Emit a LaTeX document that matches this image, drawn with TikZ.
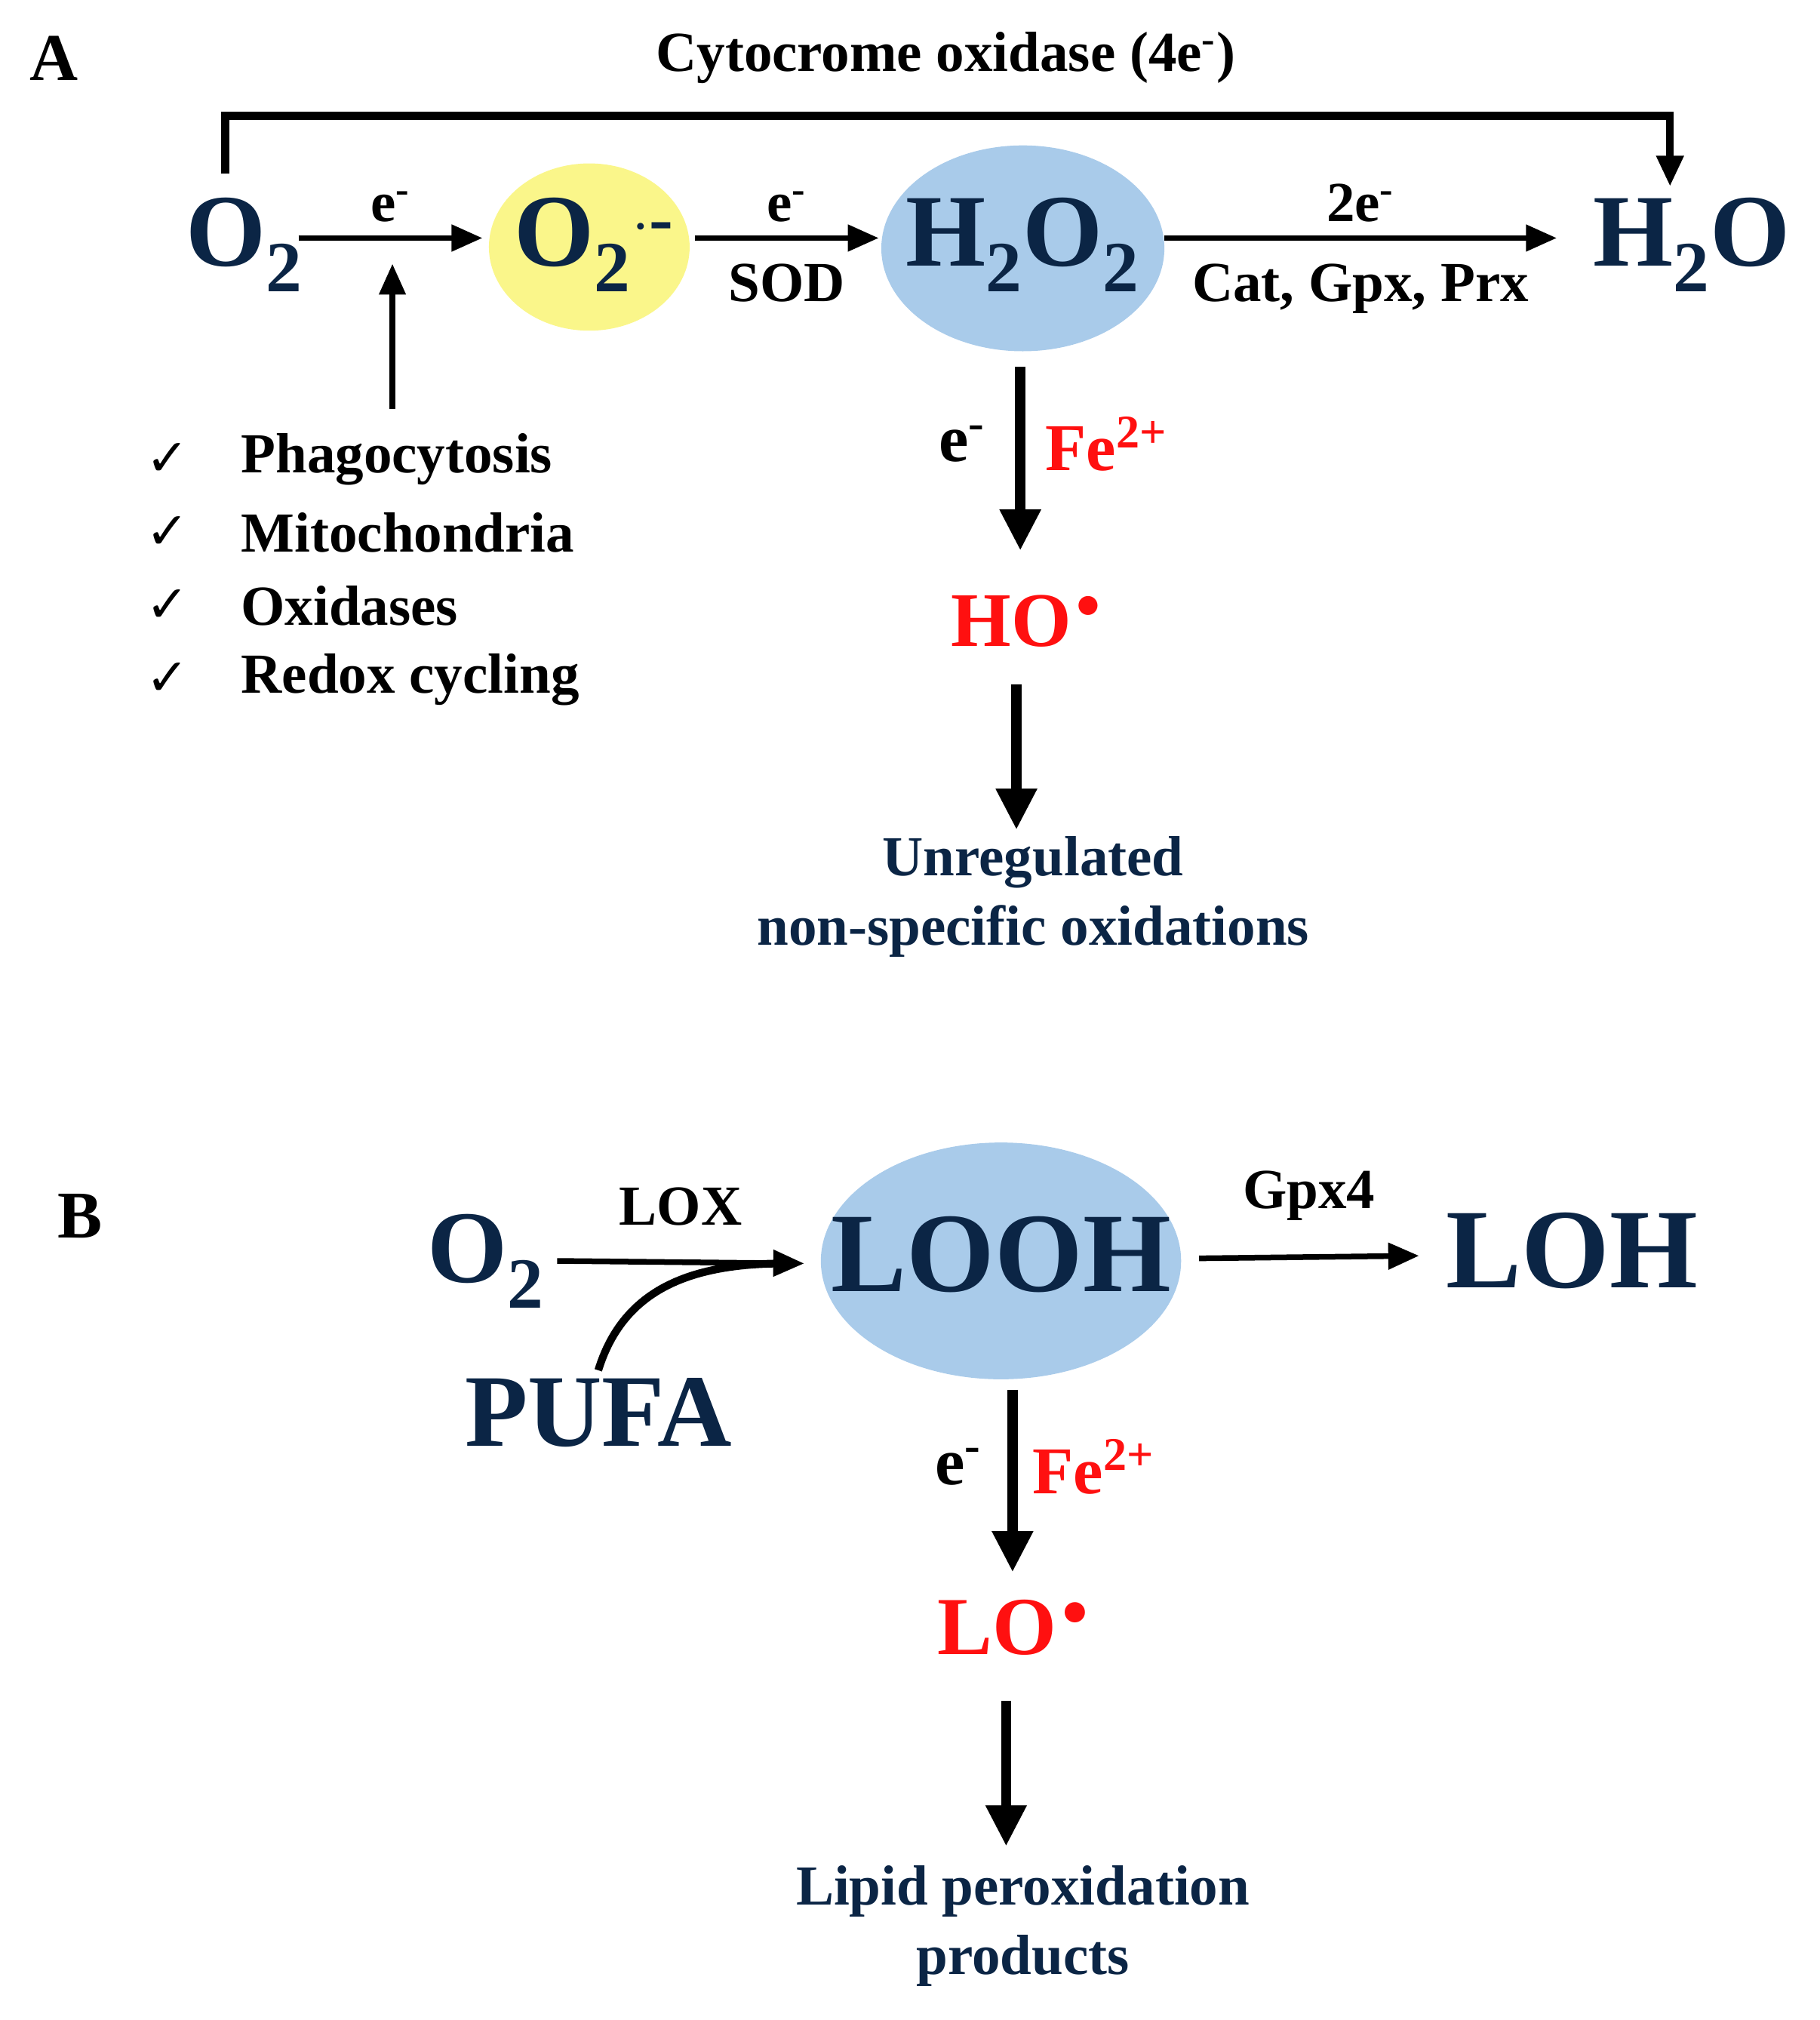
\documentclass[tikz,border=0pt]{standalone}
\usepackage{fontspec}
\setmainfont{Liberation Serif}
\newfontfamily\djv{DejaVu Sans}
\usetikzlibrary{arrows.meta}
\definecolor{navy}{HTML}{0B2545}
\definecolor{ered}{HTML}{FF1010}
\definecolor{lblue}{HTML}{A9CBEA}
\definecolor{lyellow}{HTML}{FAF68A}
\tikzset{
 arr/.style={-{Triangle[length=12pt,width=10pt]},line width=2.2pt},
 thk/.style={-{Triangle[length=16pt,width=15pt]},line width=4pt},
 big/.style={font=\fontsize{40}{44}\selectfont\bfseries,text=navy,inner sep=0pt},
 lab/.style={font=\fontsize{22}{26}\selectfont\bfseries,inner sep=1pt},
 red/.style={font=\fontsize{26}{30}\selectfont\bfseries,text=ered,inner sep=1pt},
 nv/.style={font=\fontsize{22}{27}\selectfont\bfseries,text=navy,align=center,inner sep=0pt},
}
\begin{document}
\begin{tikzpicture}[x=0.5pt,y=-0.5pt]
\useasboundingbox (0,0) rectangle (1414,1570);
% Panel A
\node[font=\fontsize{26}{30}\selectfont\bfseries] (A) at (42,45) {A};
\node[lab] (cyt) at (735,45) {Cytocrome oxidase (4e\textsuperscript{-})};
\fill[lyellow] (458,192) ellipse[x radius=78,y radius=65];
\fill[lblue] (795,193) ellipse[x radius=110,y radius=80];
\node[big] (o2) at (190,190) {O\textsubscript{2}};
\node[big] (sup) at (462,190) {O\textsubscript{2}\textsuperscript{$\cdot$-}};
\node[big] (h2o2) at (795,190) {H\textsubscript{2}O\textsubscript{2}};
\node[big] (h2o) at (1315,190) {H\textsubscript{2}O};
\coordinate (c1) at (175,135); \coordinate (c2) at (1298,145);
\draw[line width=3pt,-{Triangle[length=12pt,width=10pt]}] (c1) |- (1298,90) -- (c2);
\draw[arr] (232,185) -- (375,185) node[midway,above=4pt,lab]{e\textsuperscript{-}};
\draw[arr] (305,318) -- (305,205);
\draw[arr] (540,185) -- (683,185) node[midway,above=4pt,lab]{e\textsuperscript{-}} node[midway,below=8pt,lab]{SOD};
\draw[arr] (905,185) -- (1210,185) node[midway,above=4pt,lab]{2e\textsuperscript{-}} node[midway,below=8pt,lab]{Cat, Gpx, Prx};
\draw[thk] (793,285) -- (793,428);
\node[lab,font=\fontsize{26}{30}\selectfont\bfseries] (e1) at (748,345) {e\textsuperscript{-}};
\node[red] (fe1) at (860,345) {Fe\textsuperscript{2+}};
\node[red,font=\fontsize{30}{34}\selectfont\bfseries] (ho) at (800,483) {HO\textsuperscript{\raisebox{-1pt}{\djv•}}};
\draw[thk] (790,532) -- (790,645);
\node[nv] (unr) at (803,697) {Unregulated\\non-specific oxidations};
\foreach \t/\y [count=\i] in {Phagocytosis/357,Mitochondria/414,Oxidases/471,Redox cycling/528}{
 \node[font=\djv\fontsize{20}{24}\selectfont] (ck\i) at (130,\y) {✓};
 \node[lab,anchor=west] (it\i) at (185,\y) {\t};
}
% Panel B
\node[font=\fontsize{26}{30}\selectfont\bfseries] (B) at (62,945) {B};
\fill[lblue] (778,980) ellipse[x radius=140,y radius=92];
\node[big] (o2b) at (378,980) {O\textsubscript{2}};
\node[big] (pufa) at (465,1098) {PUFA};
\node[big,font=\fontsize{44}{48}\selectfont\bfseries] (looh) at (778,975) {LOOH};
\node[big,font=\fontsize{44}{48}\selectfont\bfseries] (loh) at (1222,972) {LOH};
\draw[arr] (433,980) -- (625,982) node[midway,above=12pt,lab]{LOX};
\draw[line width=3pt] (465,1065) .. controls (485,1000) and (540,982) .. (610,982);
\draw[arr] (932,978) -- (1103,976) node[midway,above=12pt,lab]{Gpx4};
\draw[thk] (787,1080) -- (787,1222);
\node[lab,font=\fontsize{26}{30}\selectfont\bfseries] (e2) at (745,1140) {e\textsuperscript{-}};
\node[red] (fe2) at (850,1140) {Fe\textsuperscript{2+}};
\node[red,font=\fontsize{32}{36}\selectfont\bfseries] (lo) at (790,1265) {LO\textsuperscript{\raisebox{-1pt}{\djv•}}};
\draw[thk] (782,1322) -- (782,1435);
\node[nv] (lip) at (795,1497) {Lipid peroxidation\\products};
\end{tikzpicture}
\end{document}
